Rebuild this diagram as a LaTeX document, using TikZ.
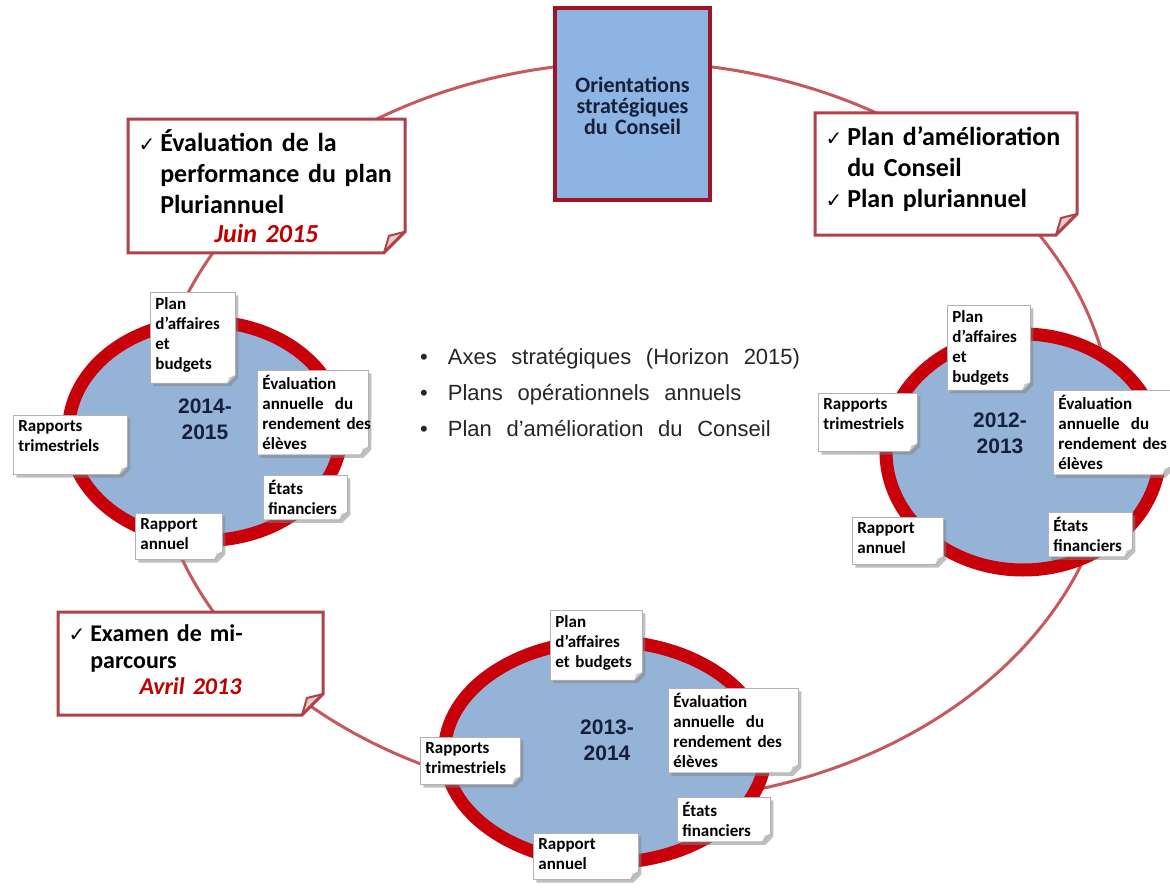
\documentclass[tikz,border=0pt]{standalone}
\usepackage{fontspec}
\setmainfont{Carlito}
\newfontfamily\arialfont{Liberation Sans}
\newfontfamily\bulletfont[WordSpace=2.4]{Liberation Sans}
\newfontfamily\symfont{DejaVu Sans}
\usetikzlibrary{shapes.geometric,shapes.misc,shadows}

\definecolor{ringred}{RGB}{198,89,93}
\definecolor{calloutred}{RGB}{175,65,75}
\definecolor{yearred}{RGB}{200,0,10}
\definecolor{yearblue}{RGB}{149,179,215}
\definecolor{boxblue}{RGB}{141,180,226}
\definecolor{boxred}{RGB}{160,20,40}
\definecolor{navytext}{RGB}{20,32,60}
\definecolor{datered}{RGB}{192,0,0}
\definecolor{foldpink}{RGB}{232,205,195}
\definecolor{bullettext}{RGB}{38,38,38}

\newcommand{\chk}{{\symfont\fontsize{20}{20}\selectfont ✓}}
\newcommand{\datefont}{\bfseries\itshape\color{datered}}
\newcommand{\dateline}[1]{\par\makebox[\linewidth]{\datefont #1}}

\tikzset{
  ring/.style={ellipse, draw=ringred, line width=3pt, minimum width=960pt, minimum height=740pt, inner sep=0pt},
  topbox/.style={draw=boxred, line width=4pt, fill=boxblue, minimum width=155pt, minimum height=192pt, text width=145pt, align=center, text=navytext, font=\fontsize{22}{21}\selectfont\bfseries},
  callout/.style={chamfered rectangle, chamfered rectangle corners=south east, chamfered rectangle sep=10.5pt, draw=calloutred, line width=3pt, fill=white, inner sep=0pt, align=left, font=\fontsize{26}{31}\selectfont\bfseries,
    path picture={\filldraw[fill=foldpink, draw=calloutred, line width=2pt] ([xshift=-21pt]path picture bounding box.south east) -- ([yshift=21pt]path picture bounding box.south east) -- ([xshift=-16pt,yshift=17pt]path picture bounding box.south east) -- cycle;}},
  yearring/.style={ellipse, draw=yearred, line width=13pt, fill=yearblue, inner sep=0pt},
  yeartext/.style={align=center, text=navytext, font=\arialfont\bfseries\fontsize{21}{26}\selectfont},
  note/.style={chamfered rectangle, chamfered rectangle corners=south east, chamfered rectangle sep=4pt, draw=gray!60, line width=0.8pt, fill=white, drop shadow={shadow xshift=3pt, shadow yshift=-3pt, opacity=0.5, fill=gray}, anchor=north west, align=left, inner sep=1pt, font=\fontsize{17}{20}\selectfont\bfseries,
    path picture={\fill[gray!40] ([xshift=-8pt]path picture bounding box.south east) -- ([yshift=8pt]path picture bounding box.south east) -- ([xshift=-6pt,yshift=6pt]path picture bounding box.south east) -- cycle;}}
}

\begin{document}
\begin{tikzpicture}[x=1pt,y=-1pt]
\useasboundingbox[fill=white] (0,0) rectangle (1170,888);
\node[ring] (cycle) at (633,432) {};
\node[topbox] (orient) at (632.5,104) {Orientations\\stratégiques\\du Conseil\par\kern-4pt};
\node[callout, minimum height=115pt, text width=256pt] (perf) at (266.5,186) {\begin{tabular}{@{}l@{\hspace{5pt}}l@{}}\chk & Évaluation de la\\ & performance du plan\\ & Pluriannuel\end{tabular}\dateline{Juin 2015}};
\node[callout, minimum height=97pt, text width=241pt] (amel) at (946,174) {\begin{tabular}{@{}l@{\hspace{5pt}}l@{}}\chk & Plan d’amélioration\\ & du Conseil\\ \chk & Plan pluriannuel\end{tabular}\par\kern8pt};
\node[callout, minimum height=86pt, text width=244pt, font=\fontsize{24}{27}\selectfont\bfseries] (exam) at (190.5,663.5) {\begin{tabular}{@{}l@{\hspace{5pt}}l@{}}\chk & Examen de mi-\\ & parcours\end{tabular}\dateline{Avril 2013}\par\kern10pt};
\node[yearring, minimum width=273pt, minimum height=219pt] (y1415) at (205,431) {};
\node[yearring, minimum width=274pt, minimum height=236pt] (y1213) at (1023,452) {};
\node[yearring, minimum width=321pt, minimum height=222pt] (y1314) at (605,752) {};
\node[yeartext] (t1415) at (205,419) {2014-\\2015};
\node[yeartext] (t1213) at (1000,433) {2012-\\2013};
\node[yeartext] (t1314) at (607,740) {2013-\\2014};
\node[note, text width=75pt] (lplan) at (150,292) {Plan\\d’affaires\\et\\budgets\par\kern6pt};
\node[note, text width=101pt] (leval) at (257,370) {Évaluation\\annuelle\ \ du\\rendement~des\\élèves};
\node[note, text width=104pt] (lrapt) at (13,415) {Rapports\\trimestriels\par\kern18pt};
\node[note, text width=74pt] (letat) at (263,475) {États\\financiers};
\node[note, text width=77pt] (lrapa) at (135,513) {Rapport\\annuel\par\kern5pt};
\node[note, text width=73pt] (rplan) at (947,305) {Plan\\d’affaires\\et\\budgets};
\node[note, text width=89pt] (rrapt) at (818,393) {Rapports\\trimestriels\par\kern17pt};
\node[note, text width=107pt] (reval) at (1053,390) {Évaluation\\annuelle\ \ du\\rendement~des\\élèves};
\node[note, text width=74pt] (retat) at (1048,512) {États\\financiers};
\node[note, text width=81pt] (rrapa) at (852,517) {Rapport\\annuel\par\kern6pt};
\node[note, text width=82pt] (bplan) at (550,610) {Plan\\d’affaires\\et budgets\par\kern5pt};
\node[note, text width=120pt] (beval) at (668,688) {Évaluation\\annuelle\ \ du\\rendement~des\\élèves};
\node[note, text width=90pt] (brapt) at (420,737) {Rapports\\trimestriels\par\kern6pt};
\node[note, text width=83pt] (betat) at (677,797) {États\\financiers};
\node[note, text width=95pt] (brapa) at (533,833) {Rapport\\annuel\par\kern5pt};
\node[anchor=west, inner sep=0pt, text=bullettext, font=\bulletfont\fontsize{22}{36}\selectfont] (axes) at (420,393) {\begin{tabular}{@{}l@{\hspace{20pt}}l@{}}•&Axes stratégiques (Horizon 2015)\\•&Plans opérationnels annuels\\•&Plan d’amélioration du Conseil\end{tabular}};
\end{tikzpicture}
\end{document}
